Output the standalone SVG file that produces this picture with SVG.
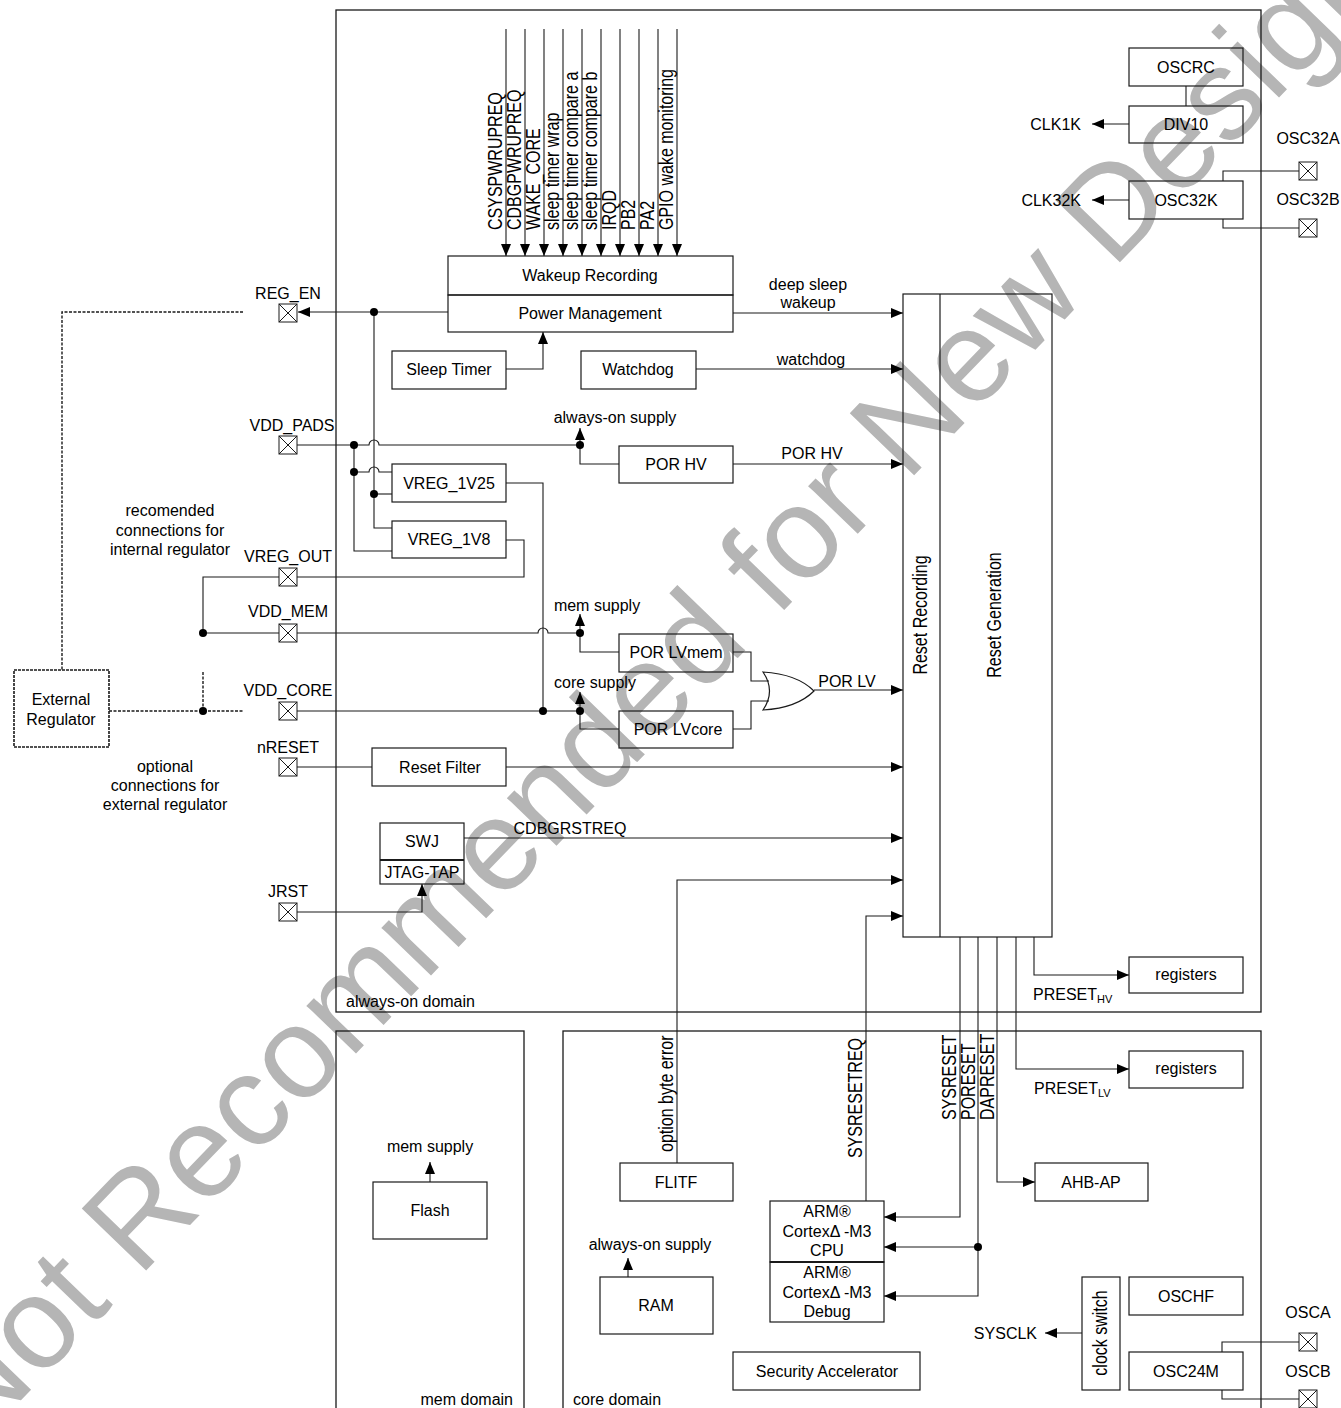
<svg xmlns="http://www.w3.org/2000/svg" xmlns:xlink="http://www.w3.org/1999/xlink" width="1341" height="1408" viewBox="0 0 1341 1408">
<style>
.bx{fill:none;stroke:#1a1a1a;stroke-width:1.2}
.dom{fill:none;stroke:#1a1a1a;stroke-width:1.3}
.ln{fill:none;stroke:#1a1a1a;stroke-width:1.1}
.da{fill:none;stroke:#1a1a1a;stroke-width:1.4;stroke-dasharray:3 1.5}
.t{font-family:"Liberation Sans",Arial,sans-serif;font-size:16px;fill:#000;text-anchor:middle}
.s{text-anchor:start}
.e{text-anchor:end}
.r{font-family:"Liberation Sans",Arial,sans-serif;font-size:20px;fill:#000}
.dot{fill:#000}
.wm{font-family:"Liberation Sans",Arial,sans-serif;font-size:130px;fill:#b5b5b5;text-anchor:middle}
</style>
<defs>
<marker id="arr" viewBox="0 0 12 10" refX="12" refY="5" markerWidth="12" markerHeight="10" orient="auto" markerUnits="userSpaceOnUse"><path d="M0,0 L12,5 L0,10 Z" fill="#000"/></marker>
<g id="pad"><rect x="-9" y="-9" width="18" height="18" fill="none" stroke="#1a1a1a" stroke-width="1"/><path d="M-9,-9 L9,9 M9,-9 L-9,9" stroke="#1a1a1a" stroke-width="1" fill="none"/></g>
</defs>
<rect width="1341" height="1408" fill="#fff"/>
<text class="wm" transform="translate(706,691) rotate(-46)">Not Recommended for New Designs</text>

<g id="domains">
<rect class="dom" x="336" y="10" width="925" height="1002"/>
<text class="t s" x="346" y="1007">always-on domain</text>
<rect class="dom" x="336" y="1031" width="188" height="420"/>
<text class="t e" x="513" y="1405">mem domain</text>
<rect class="dom" x="563" y="1031" width="698" height="420"/>
<text class="t s" x="573" y="1405">core domain</text>
</g>

<g id="connectors">
<g marker-end="url(#arr)" class="ln">
<path d="M506,29V256"/><path d="M525,29V256"/><path d="M544,29V256"/><path d="M563,29V256"/><path d="M582,29V256"/>
<path d="M601,29V256"/><path d="M620,29V256"/><path d="M639,29V256"/><path d="M658,29V256"/><path d="M677,29V256"/>
</g>
<path class="ln" d="M448,312H298" marker-end="url(#arr)"/>
<path class="ln" d="M374,312V528H392"/>
<path class="ln" d="M374,494H392"/>
<path class="ln" d="M297,445H369A5,5 0 0 1 379,445H580"/>
<path class="ln" d="M354,445V551H392"/>
<path class="ln" d="M354,472H369A5,5 0 0 1 379,472H392"/>
<path class="ln" d="M580,445V464H619"/>
<path class="ln" d="M580,445V428" marker-end="url(#arr)"/>
<path class="ln" d="M506,483H543V711"/>
<path class="ln" d="M506,540H524V577H297"/>
<path class="ln" d="M279,577H203V633H279"/>
<path class="ln" d="M297,633H538A5,5 0 0 1 548,633H580"/>
<path class="ln" d="M580,633V652H619"/>
<path class="ln" d="M580,633V614" marker-end="url(#arr)"/>
<path class="ln" d="M297,711H580"/>
<path class="ln" d="M580,711V729H619"/>
<path class="ln" d="M580,711V692" marker-end="url(#arr)"/>
<path class="da" d="M243,312H62V670"/>
<path class="da" d="M109,711H243"/>
<path class="da" d="M203,711V672"/>
<path class="ln" d="M733,464H903" marker-end="url(#arr)"/>
<path class="ln" d="M733,652H751V681H769"/>
<path class="ln" d="M733,729H751V701H769"/>
<path class="ln" d="M814,690H903" marker-end="url(#arr)"/>
<path class="ln" d="M733,313H903" marker-end="url(#arr)"/>
<path class="ln" d="M506,369H543V332" marker-end="url(#arr)"/>
<path class="ln" d="M696,369H903" marker-end="url(#arr)"/>
<path class="ln" d="M297,767H372"/>
<path class="ln" d="M506,767H903" marker-end="url(#arr)"/>
<path class="ln" d="M464,838H903" marker-end="url(#arr)"/>
<path class="ln" d="M297,912H422V884" marker-end="url(#arr)"/>
<path class="ln" d="M677,1163V880H903" marker-end="url(#arr)"/>
<path class="ln" d="M866,1201V916H903" marker-end="url(#arr)"/>
<path class="ln" d="M1034,937V975H1129" marker-end="url(#arr)"/>
<path class="ln" d="M1016,937V1069H1129" marker-end="url(#arr)"/>
<path class="ln" d="M997,937V1182H1035" marker-end="url(#arr)"/>
<path class="ln" d="M978,937V1296H884" marker-end="url(#arr)"/>
<path class="ln" d="M978,1247H884" marker-end="url(#arr)"/>
<path class="ln" d="M960,937V1217H884" marker-end="url(#arr)"/>
<path class="ln" d="M1129,124H1092" marker-end="url(#arr)"/>
<path class="ln" d="M1129,200H1092" marker-end="url(#arr)"/>
<path class="ln" d="M1186,86V106"/>
<path class="ln" d="M1299,171H1223V181"/>
<path class="ln" d="M1223,219V228H1299"/>
<path class="ln" d="M1082,1333H1045" marker-end="url(#arr)"/>
<path class="ln" d="M1299,1342H1222V1352"/>
<path class="ln" d="M1222,1390V1399H1299"/>
<path class="ln" d="M430,1182V1162" marker-end="url(#arr)"/>
<path class="ln" d="M628,1277V1258" marker-end="url(#arr)"/>
<circle class="dot" cx="374" cy="312" r="4"/>
<circle class="dot" cx="374" cy="494" r="4"/>
<circle class="dot" cx="354" cy="445" r="4"/>
<circle class="dot" cx="354" cy="472" r="4"/>
<circle class="dot" cx="580" cy="445" r="4"/>
<circle class="dot" cx="580" cy="633" r="4"/>
<circle class="dot" cx="580" cy="711" r="4"/>
<circle class="dot" cx="543" cy="711" r="4"/>
<circle class="dot" cx="203" cy="633" r="4"/>
<circle class="dot" cx="203" cy="711" r="4"/>
<circle class="dot" cx="978" cy="1247" r="4"/>
<text class="t" x="808" y="290">deep sleep</text>
<text class="t" x="808" y="308">wakeup</text>
<text class="t" x="811" y="365">watchdog</text>
<text class="t" x="615" y="423">always-on supply</text>
<text class="t" x="812" y="459">POR HV</text>
<text class="t" x="597" y="611">mem supply</text>
<text class="t" x="595" y="688">core supply</text>
<text class="t" x="847" y="687">POR LV</text>
<text class="t" x="570" y="834">CDBGRSTREQ</text>
<text class="t s" x="1033" y="1000">PRESET<tspan font-size="11" dy="3">HV</tspan></text>
<text class="t s" x="1034" y="1094">PRESET<tspan font-size="11" dy="3">LV</tspan></text>
<text class="t" x="430" y="1152">mem supply</text>
<text class="t" x="650" y="1250">always-on supply</text>
<text class="t e" x="1081" y="130">CLK1K</text>
<text class="t e" x="1081" y="206">CLK32K</text>
<text class="t e" x="1037" y="1339">SYSCLK</text>
<text class="t" x="170" y="516">recomended</text>
<text class="t" x="170" y="536">connections for</text>
<text class="t" x="170" y="555">internal regulator</text>
<text class="t" x="165" y="772">optional</text>
<text class="t" x="165" y="791">connections for</text>
<text class="t" x="165" y="810">external regulator</text>
<text class="r" transform="translate(502,230) rotate(-90) scale(0.8,1)">CSYSPWRUPREQ</text>
<text class="r" transform="translate(521,230) rotate(-90) scale(0.8,1)">CDBGPWRUPREQ</text>
<text class="r" transform="translate(540,230) rotate(-90) scale(0.8,1)">WAKE_CORE</text>
<text class="r" transform="translate(559,230) rotate(-90) scale(0.8,1)">sleep timer wrap</text>
<text class="r" transform="translate(578,230) rotate(-90) scale(0.8,1)">sleep timer compare a</text>
<text class="r" transform="translate(597,230) rotate(-90) scale(0.8,1)">sleep timer compare b</text>
<text class="r" transform="translate(616,230) rotate(-90) scale(0.8,1)">IRQD</text>
<text class="r" transform="translate(635,230) rotate(-90) scale(0.8,1)">PB2</text>
<text class="r" transform="translate(654,230) rotate(-90) scale(0.8,1)">PA2</text>
<text class="r" transform="translate(673,230) rotate(-90) scale(0.8,1)">GPIO wake monitoring</text>
<text class="r" transform="translate(673,1152) rotate(-90) scale(0.8,1)">option byte error</text>
<text class="r" transform="translate(862,1158) rotate(-90) scale(0.8,1)">SYSRESETREQ</text>
<text class="r" transform="translate(956,1120) rotate(-90) scale(0.8,1)">SYSRESET</text>
<text class="r" transform="translate(975,1120) rotate(-90) scale(0.8,1)">PORESET</text>
<text class="r" transform="translate(994,1120) rotate(-90) scale(0.8,1)">DAPRESET</text>
</g>

<g id="pads">
<text class="t" x="288" y="299">REG_EN</text><use xlink:href="#pad" href="#pad" x="288" y="313"/>
<text class="t" x="292" y="431">VDD_PADS</text><use xlink:href="#pad" href="#pad" x="288" y="445"/>
<text class="t" x="288" y="562">VREG_OUT</text><use xlink:href="#pad" href="#pad" x="288" y="577"/>
<text class="t" x="288" y="617">VDD_MEM</text><use xlink:href="#pad" href="#pad" x="288" y="633"/>
<text class="t" x="288" y="696">VDD_CORE</text><use xlink:href="#pad" href="#pad" x="288" y="711"/>
<text class="t" x="288" y="753">nRESET</text><use xlink:href="#pad" href="#pad" x="288" y="767"/>
<text class="t" x="288" y="897">JRST</text><use xlink:href="#pad" href="#pad" x="288" y="912"/>
<text class="t" x="1308" y="144">OSC32A</text><use xlink:href="#pad" href="#pad" x="1308" y="171"/>
<text class="t" x="1308" y="205">OSC32B</text><use xlink:href="#pad" href="#pad" x="1308" y="228"/>
<text class="t" x="1308" y="1318">OSCA</text><use xlink:href="#pad" href="#pad" x="1308" y="1342"/>
<text class="t" x="1308" y="1377">OSCB</text><use xlink:href="#pad" href="#pad" x="1308" y="1399"/>
</g>

<g id="ext-regulator"><rect x="14" y="670" width="95" height="77" fill="none" stroke="#1a1a1a" stroke-width="1.6" stroke-dasharray="3 1"/><text class="t" x="61" y="705">External</text><text class="t" x="61" y="725">Regulator</text></g>
<g id="wakeup-recording"><rect class="bx" x="448" y="256" width="285" height="39"/><text class="t" x="590" y="281">Wakeup Recording</text></g>
<g id="power-management"><rect class="bx" x="448" y="295" width="285" height="37"/><text class="t" x="590" y="319">Power Management</text></g>
<g id="sleep-timer"><rect class="bx" x="392" y="351" width="114" height="38"/><text class="t" x="449" y="375">Sleep Timer</text></g>
<g id="watchdog"><rect class="bx" x="581" y="351" width="115" height="38"/><text class="t" x="638" y="375">Watchdog</text></g>
<g id="vreg-1v25"><rect class="bx" x="392" y="464" width="114" height="38"/><text class="t" x="449" y="489">VREG_1V25</text></g>
<g id="vreg-1v8"><rect class="bx" x="392" y="521" width="114" height="37"/><text class="t" x="449" y="545">VREG_1V8</text></g>
<g id="por-hv"><rect class="bx" x="619" y="446" width="114" height="37"/><text class="t" x="676" y="470">POR HV</text></g>
<g id="por-lvmem"><rect class="bx" x="619" y="634" width="114" height="38"/><text class="t" x="676" y="658">POR LVmem</text></g>
<g id="por-lvcore"><rect class="bx" x="619" y="711" width="114" height="37"/><text class="t" x="678" y="735">POR LVcore</text></g>
<g id="or-gate"><path class="bx" d="M763,672Q776,691 763,710Q797,708 814,691Q797,674 763,672Z"/></g>
<g id="reset-filter"><rect class="bx" x="372" y="748" width="134" height="38"/><text class="t" x="440" y="773">Reset Filter</text></g>
<g id="swj"><rect class="bx" x="380" y="823" width="84" height="61"/><path d="M380,860H464" stroke="#1a1a1a" stroke-width="2"/><text class="t" x="422" y="847">SWJ</text><text class="t" x="422" y="878">JTAG-TAP</text></g>
<g id="reset-block"><rect class="bx" x="903" y="294" width="149" height="643"/><path class="bx" d="M940,294V937"/>
<text class="r" text-anchor="middle" transform="translate(927,615) rotate(-90) scale(0.8,1)">Reset Recording</text>
<text class="r" text-anchor="middle" transform="translate(1001,615) rotate(-90) scale(0.8,1)">Reset Generation</text></g>
<g id="oscrc"><rect class="bx" x="1129" y="48" width="114" height="38"/><text class="t" x="1186" y="73">OSCRC</text></g>
<g id="div10"><rect class="bx" x="1129" y="106" width="114" height="37"/><text class="t" x="1186" y="130">DIV10</text></g>
<g id="osc32k"><rect class="bx" x="1129" y="181" width="114" height="38"/><text class="t" x="1186" y="206">OSC32K</text></g>
<g id="registers-hv"><rect class="bx" x="1129" y="957" width="114" height="36"/><text class="t" x="1186" y="980">registers</text></g>
<g id="registers-lv"><rect class="bx" x="1129" y="1051" width="114" height="37"/><text class="t" x="1186" y="1074">registers</text></g>
<g id="flash"><rect class="bx" x="373" y="1182" width="114" height="57"/><text class="t" x="430" y="1216">Flash</text></g>
<g id="flitf"><rect class="bx" x="620" y="1163" width="113" height="38"/><text class="t" x="676" y="1188">FLITF</text></g>
<g id="ahb-ap"><rect class="bx" x="1035" y="1163" width="113" height="38"/><text class="t" x="1091" y="1188">AHB-AP</text></g>
<g id="arm-cpu"><rect class="bx" x="770" y="1201" width="114" height="61"/><text class="t" x="827" y="1217">ARM®</text><text class="t" x="827" y="1237">CortexΔ -M3</text><text class="t" x="827" y="1256">CPU</text></g>
<g id="arm-debug"><rect class="bx" x="770" y="1262" width="114" height="60"/><path d="M770,1262H884" stroke="#1a1a1a" stroke-width="2"/><text class="t" x="827" y="1278">ARM®</text><text class="t" x="827" y="1298">CortexΔ -M3</text><text class="t" x="827" y="1317">Debug</text></g>
<g id="ram"><rect class="bx" x="600" y="1277" width="113" height="57"/><text class="t" x="656" y="1311">RAM</text></g>
<g id="security-accelerator"><rect class="bx" x="733" y="1352" width="187" height="38"/><text class="t" x="827" y="1377">Security Accelerator</text></g>
<g id="clock-switch"><rect class="bx" x="1082" y="1277" width="38" height="113"/><text class="r" text-anchor="middle" transform="translate(1107,1333) rotate(-90) scale(0.8,1)">clock switch</text></g>
<g id="oschf"><rect class="bx" x="1129" y="1277" width="114" height="38"/><text class="t" x="1186" y="1302">OSCHF</text></g>
<g id="osc24m"><rect class="bx" x="1129" y="1352" width="114" height="38"/><text class="t" x="1186" y="1377">OSC24M</text></g>
</svg>
